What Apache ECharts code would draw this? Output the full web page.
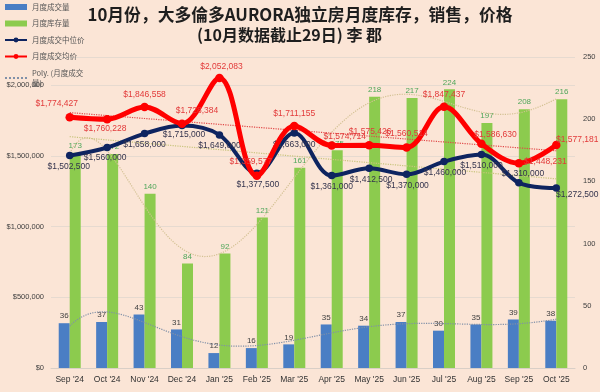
<!DOCTYPE html>
<html><head><meta charset="utf-8">
<script src="https://cdn.jsdelivr.net/npm/echarts@6/dist/echarts.min.js"></script>
<style>html,body{margin:0;padding:0;background:#FBE5D6}#c{width:600px;height:392px}</style>
</head><body><div id="c"></div>
<script>
// ---- data ----
const categories = ["Sep '24","Oct '24","Nov '24","Dec '24","Jan '25","Feb '25","Mar '25","Apr '25","May '25","Jun '25","Jul '25","Aug '25","Sep '25","Oct '25"];
const salesVolume = [36,37,43,31,12,16,19,35,34,37,30,35,39,38];
const inventory = [173,172,140,84,92,121,161,175,218,217,224,197,208,216];
const medianPrice = [1502500,1560000,1658000,1715000,1649000,1377500,1663000,1361000,1412500,1370000,1460000,1510000,1310000,1272500];
const averagePrice = [1774427,1760228,1846558,1728384,2052083,1359577,1711155,1574714,1575426,1560514,1847437,1586630,1448231,1577181];
const priceAxisTicks = [0,500000,1000000,1500000,2000000];
const countAxisTicks = [0,50,100,150,200,250];

// ---- label placement (style config) ----
const avgLabelPos = [['top',-13,0],['bottom',-2,-4],['top',0,1],['top',15,1],['top',2,2],['top',-6,0],['top',0,1],['top',13,5],['top',1,0],['top',0,0],['top',0,2],['top',14,5],['right',-4,-2],['top',21,8]];
const medLabelPos = [['bottom',-1,-2],['bottom',-2,-3],['bottom',0,-2],['bottom',2,-4],['bottom',0,-2],['bottom',1,-2],['bottom',0,-2],['bottom',0,-2],['bottom',2,-2],['bottom',1,-2],['bottom',1,-2],['bottom',0,-2],['top',4,4],['bottom',21,-7]];

function money(v){ return '$' + String(Math.round(v)).replace(/\B(?=(\d{3})+(?!\d))/g, ','); }

// least-squares polynomial fit (as a chart trendline does)
function polyfit(ys, deg){
  const n = ys.length, c = (n-1)/2, s = (n-1)/2;
  const m = deg+1, A = [], b = [];
  for(let j=0;j<m;j++){ A.push(new Array(m).fill(0)); b.push(0); }
  for(let i=0;i<n;i++){
    const t = (i-c)/s; const p = [];
    for(let k=0;k<2*m;k++) p.push(Math.pow(t,k));
    for(let j=0;j<m;j++){ b[j]+=ys[i]*p[j]; for(let k=0;k<m;k++) A[j][k]+=p[j+k]; }
  }
  for(let col=0;col<m;col++){
    let piv=col; for(let r=col+1;r<m;r++) if(Math.abs(A[r][col])>Math.abs(A[piv][col])) piv=r;
    [A[col],A[piv]]=[A[piv],A[col]]; [b[col],b[piv]]=[b[piv],b[col]];
    for(let r=0;r<m;r++){ if(r===col) continue; const f=A[r][col]/A[col][col];
      for(let k=col;k<m;k++) A[r][k]-=f*A[col][k]; b[r]-=f*b[col]; }
  }
  const coef = b.map((v,i)=>v/A[i][i]);
  return x => { const t=(x-c)/s; let r=0; for(let k=m-1;k>=0;k--) r=r*t+coef[k]; return r; };
}
function trendPoints(ys, deg){
  const f = polyfit(ys, deg), out=[];
  for(let x=0;x<=ys.length-1+1e-9;x+=0.1) out.push([+x.toFixed(2), f(x)]);
  return out;
}

const chart = echarts.init(document.getElementById('c'), null, {renderer:'canvas'});
const numFont = 'Liberation Sans';
const cjk = 'Noto Sans CJK SC';

chart.setOption({
  backgroundColor:'#FBE5D6',
  animation:false,
  title:[
    {text:'10月份，大多倫多AURORA独立房月度库存，销售，价格', left:'center', top:5, padding:0,
     textStyle:{fontFamily:cjk, fontSize:16.8, fontWeight:'bold', color:'#1E1E1E', lineHeight:20}},
    {text:'(10月数据截止29日) 李 郡', left:197, top:25, padding:0,
     textStyle:{fontFamily:cjk, fontSize:16, fontWeight:'bold', color:'#1E1E1E', lineHeight:20}}
  ],
  legend:{
    orient:'vertical', left:4, top:2, padding:0, itemWidth:22, itemHeight:6, itemGap:6.5,
    textStyle:{fontFamily:cjk, fontSize:7.5, color:'#555', lineHeight:10},
    data:[
      {name:'月度成交量', icon:'rect'},
      {name:'月度库存量', icon:'rect'},
      {name:'月度成交中位价'},
      {name:'月度成交均价'},
      {name:'Poly. (月度成交量)', textStyle:{width:52, overflow:'break'}}
    ]
  },
  grid:{left:51, right:25, top:57, bottom:24, containLabel:false},
  xAxis:[
    {type:'category', data:categories, boundaryGap:true,
     axisLine:{show:true, lineStyle:{color:'#D9CFC7'}}, axisTick:{show:false},
     axisLabel:{fontFamily:numFont, fontSize:8.5, color:'#333', margin:7, interval:0}},
    {type:'value', min:-0.5, max:categories.length-0.5, show:false}
  ],
  yAxis:[
    {type:'value', min:priceAxisTicks[0], max:2200000, interval:500000,
     axisLine:{show:false}, axisTick:{show:false},
     axisLabel:{fontFamily:numFont, fontSize:7.5, color:'#404040', margin:7, showMaxLabel:false, formatter:v=>money(v)},
     splitLine:{show:true, lineStyle:{color:'#E6DAD0', width:1}}},
    {type:'value', min:countAxisTicks[0], max:countAxisTicks[countAxisTicks.length-1], interval:50,
     axisLine:{show:false}, axisTick:{show:false},
     axisLabel:{fontFamily:numFont, fontSize:7.5, color:'#404040', margin:8},
     splitLine:{show:false}}
  ],
  series:[
    {name:'月度成交量', type:'bar', yAxisIndex:1, barWidth:11, barGap:'0%', z:2,
     itemStyle:{color:'#4A7EC4'}, data:salesVolume,
     label:{show:true, position:'top', distance:3, fontFamily:numFont, fontSize:8, color:'#404040'}},
    {name:'月度库存量', type:'bar', yAxisIndex:1, barWidth:11, barGap:'0%', z:2,
     itemStyle:{color:'#8CCB4E'}, data:inventory,
     label:{show:true, position:'top', distance:3, fontFamily:numFont, fontSize:8, color:'#4FA65A'}},
    {name:'Poly. (月度成交量)', type:'line', xAxisIndex:1, yAxisIndex:1, symbol:'none', z:3, silent:true,
     lineStyle:{color:'#8090A8', width:1.2, type:'dotted'}, itemStyle:{color:'rgba(0,0,0,0)'},
     data:trendPoints(salesVolume, 6)},
    {name:'库存趋势', type:'line', xAxisIndex:1, yAxisIndex:1, symbol:'none', z:3, silent:true,
     lineStyle:{color:'#D3C193', width:1.2, type:'dotted'},
     data:trendPoints(inventory, 6)},
    {name:'中位价趋势', type:'line', xAxisIndex:1, yAxisIndex:0, symbol:'none', z:3, silent:true,
     lineStyle:{color:'#C8C47C', width:1.2, type:'dotted'},
     data:trendPoints(medianPrice, 1)},
    {name:'均价趋势', type:'line', xAxisIndex:1, yAxisIndex:0, symbol:'none', z:3, silent:true,
     lineStyle:{color:'#E04848', width:1.2, type:'dotted'},
     data:trendPoints(averagePrice, 1)},
    {name:'月度成交中位价', type:'line', yAxisIndex:0, smooth:0.35, symbol:'circle', symbolSize:7.5, z:4,
     lineStyle:{color:'#0E2460', width:4}, itemStyle:{color:'#0E2460'},
     label:{show:true, fontFamily:numFont, fontSize:8.5, color:'#33334D', formatter:p=>money(p.value)},
     data:medianPrice.map((v,i)=>({value:v, label:{position:medLabelPos[i][0], offset:[medLabelPos[i][1],medLabelPos[i][2]]}}))},
    {name:'月度成交均价', type:'line', yAxisIndex:0, smooth:0.35, symbol:'circle', symbolSize:8.5, z:5,
     lineStyle:{color:'#FF0000', width:5}, itemStyle:{color:'#FF0000'},
     label:{show:true, fontFamily:numFont, fontSize:8.5, color:'#E23A3A', formatter:p=>money(p.value)},
     data:averagePrice.map((v,i)=>({value:v, label:{position:avgLabelPos[i][0], offset:[avgLabelPos[i][1],avgLabelPos[i][2]]}}))}
  ]
});
</script></body></html>
